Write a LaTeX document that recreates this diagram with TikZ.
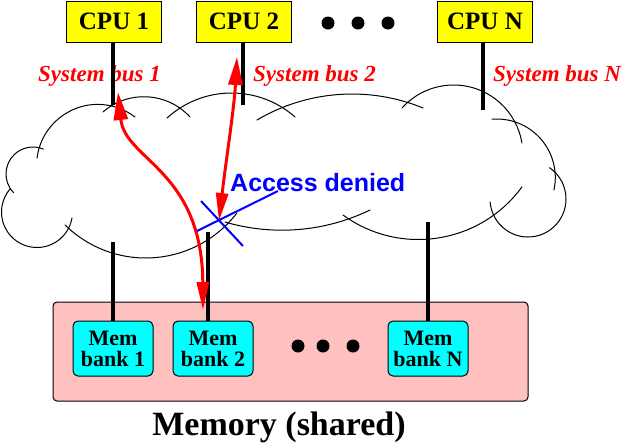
\documentclass[tikz,border=0pt]{standalone}
\usepackage{fontspec}
\setmainfont{Liberation Serif}
\setsansfont{Liberation Sans}
\usepackage{xcolor}
\usepackage{tikz}
\usetikzlibrary{arrows.meta,positioning}
\definecolor{cpuyellow}{HTML}{FFFF00}
\definecolor{bankcyan}{HTML}{00FFFF}
\definecolor{mempink}{HTML}{FFC0C0}
\definecolor{busred}{HTML}{FF0000}
\definecolor{denyblue}{HTML}{0000FF}

\begin{document}
\begin{tikzpicture}[x=1pt, y=-1pt,
    cpu/.style={draw, fill=cpuyellow, line width=1pt, minimum width=95pt, minimum height=41pt, inner sep=0pt, font=\fontsize{25}{25}\selectfont\bfseries},
    bank/.style={draw, fill=bankcyan, line width=1pt, rounded corners=5pt, minimum width=80pt, minimum height=55pt, inner sep=0pt, align=center, font=\fontsize{22}{21}\selectfont\bfseries},
    buslabel/.style={anchor=base west, inner sep=0pt, text=busred, font=\fontsize{23}{23}\selectfont\bfseries\itshape},
    wire/.style={line width=4pt},
    cloud/.style={line width=1pt, line cap=round},
    flow/.style={busred, line width=3pt, {Triangle[length=28pt,width=14pt]}-{Triangle[length=28pt,width=12pt]}},
    deny/.style={denyblue, line width=2pt}]
      \useasboundingbox (0,0) rectangle (633,445);
      % shared bus cloud, one arc per bump
      \foreach \cx/\cy/\r/\a/\b in {97.8/165.6/61.2/187/307.5, 143.9/159.2/62.5/229/317.5,
          231.6/188.9/95.9/227.7/311.4, 352.1/281/187/239.4/292.3, 453.6/154.3/69.3/221.9/350.6,
          496.8/177.5/58.5/265.3/372.3, 528/199/38/-55.5/175.4, 418.4/111.2/128.3/36.2/126,
          281.9/27.6/202.6/64.2/106.3, 145.7/143/115/37.5/134.5, 37/212/35.5/9.7/221.6,
          33/174/27/136.5/292.6}
        \draw[cloud] (\cx,\cy) ++(\a:\r) arc[start angle=\a, end angle=\b, radius=\r];
      \node[cpu] (cpu1) at (114,21.5) {CPU 1};
      \node[cpu] (cpu2) at (244,21.5) {CPU 2};
      \node[cpu] (cpuN) at (485,21.5) {CPU N};
      \foreach \x in {328,358,388} \fill (\x,23) circle[radius=6.5];
      \node[buslabel] (sys1) at (38,81) {System bus 1};
      \node[buslabel] (sys2) at (253,81) {System bus 2};
      \node[buslabel] (sysN) at (493,81) {System bus N};
      \coordinate (bus1) at (113,105);
      \coordinate (bus2) at (243,105);
      \coordinate (busN) at (483,110);
      \draw[wire] (cpu1.south -| bus1) -- (bus1);
      \draw[wire] (cpu2.south -| bus2) -- (bus2);
      \draw[wire] (cpuN.south -| busN) -- (busN);
      \node[draw, fill=mempink, line width=1pt, rounded corners=4pt, minimum width=475pt, minimum height=99pt] (mem) at (290.5,351.5) {};
      \node[bank] (bank1) at (113,348.5) {Mem\\bank 1};
      \node[bank] (bank2) at (213,348.5) {Mem\\bank 2};
      \node[bank] (bankN) at (428,348.5) {Mem\\bank N};
      \foreach \x in {298,323,353} \fill (\x,346) circle[radius=6.5];
      \node[anchor=base, font=\fontsize{34}{34}\selectfont\bfseries] (memlabel) at (279,435) {Memory (shared)};
      \coordinate (port1) at (113,242);
      \coordinate (port2) at (208,232);
      \coordinate (portN) at (428,222);
      \draw[wire] (port1) -- (port1 |- bank1.north);
      \draw[wire] (port2) -- (port2 |- bank2.north);
      \draw[wire] (portN) -- (portN |- bankN.north);
      % requests
      \coordinate (grant) at (118,92);
      \coordinate (target) at (203,310);
      \coordinate (ask) at (237,57);
      \coordinate (blocked) at (219,221);
      \draw[flow] (grant) .. controls (125,160) and (202,170) .. (target);
      \draw[flow] (ask) .. controls (234,110) and (226,160) .. (blocked);
      \draw[deny] ([shift={(-18,-20)}]blocked) -- ([shift={(24,25)}]blocked);
      \draw[deny] ([shift={(-22,10)}]blocked) -- ([shift={(59,-30)}]blocked);
      \node[anchor=base west, inner sep=0pt, text=denyblue, font=\sffamily\bfseries\fontsize{25}{25}\selectfont] (denied) at (230,191) {Access denied};
    \end{tikzpicture}
\end{document}
